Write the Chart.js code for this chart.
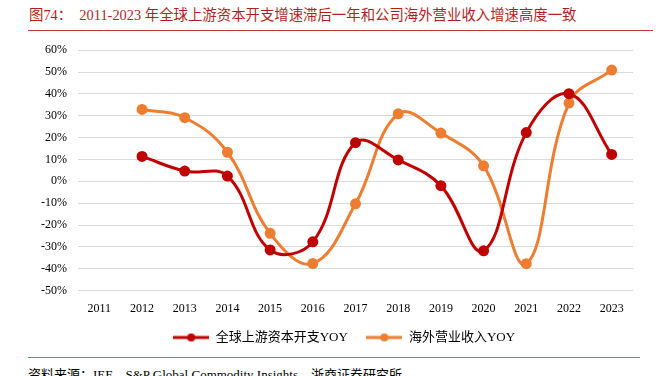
<!DOCTYPE html>
<html>
<head>
<meta charset="utf-8">
<script src="https://cdn.jsdelivr.net/npm/chart.js@4"></script>
<style>
  body { margin: 0; background: #fff; width: 666px; height: 376px; overflow: hidden; position: relative; font-family: "Liberation Serif", "Noto Sans CJK SC", serif; }
  #title { position: absolute; left: 29px; top: 3px; font-size: 14.4px; color: #b01f24; white-space: nowrap; }
  #topline { position: absolute; left: 28px; top: 30px; width: 625px; height: 0; border-top: 1.5px solid #c9363a; }
  #bottomline { position: absolute; left: 28px; top: 357px; width: 612px; height: 0; border-top: 1.5px solid #e06060; }
  #source { position: absolute; left: 28px; top: 364px; font-size: 13px; color: #000; white-space: nowrap; }
  #wrap { position: absolute; left: 0; top: 32px; }
</style>
</head>
<body>
<div id="title">图74：&nbsp; 2011-2023 年全球上游资本开支增速滞后一年和公司海外营业收入增速高度一致</div>
<div id="topline"></div>
<div id="wrap"><canvas id="chart" width="666" height="322"></canvas></div>
<div id="bottomline"></div>
<div id="source">资料来源：IEF、S&amp;P Global Commodity Insights，浙商证券研究所</div>
<script>
const years = ['2011', '2012', '2013', '2014', '2015', '2016', '2017', '2018', '2019', '2020', '2021', '2022', '2023'];
const capexYoy = [null, 11.4, 4.7, 2.4, -31.4, -27.7, 17.7, 9.8, -2.0, -31.8, 22.3, 40.1, 12.3];
const overseasRevenueYoy = [null, 32.9, 29.1, 13.3, -23.8, -37.6, -10.3, 30.9, 22.1, 7.1, -37.7, 35.8, 50.9];
const seriesNames = ['全球上游资本开支YOY', '海外营业收入YOY'];

const RED = '#c00000';
const ORANGE = '#ed7d31';

function legendIcon(color) {
  const c = document.createElement('canvas');
  c.width = 36;
  c.height = 10;
  const g = c.getContext('2d');
  g.strokeStyle = color;
  g.lineWidth = 3;
  g.beginPath();
  g.moveTo(0, 5);
  g.lineTo(36, 5);
  g.stroke();
  g.fillStyle = color;
  g.beginPath();
  g.arc(18, 5, 4, 0, Math.PI * 2);
  g.fill();
  return c;
}
const icons = [legendIcon(RED), legendIcon(ORANGE)];

const ctx = document.getElementById('chart').getContext('2d');
new Chart(ctx, {
  type: 'line',
  data: {
    labels: years,
    datasets: [
      {
        label: seriesNames[0],
        data: capexYoy,
        borderColor: RED,
        backgroundColor: RED,
        borderWidth: 3,
        pointRadius: 4,
        pointHoverRadius: 4,
        tension: 0.4
      },
      {
        label: seriesNames[1],
        data: overseasRevenueYoy,
        borderColor: ORANGE,
        backgroundColor: ORANGE,
        borderWidth: 3,
        pointRadius: 4,
        pointHoverRadius: 4,
        tension: 0.4
      }
    ]
  },
  options: {
    responsive: false,
    animation: false,
    layout: { padding: { left: 0, right: 33, top: 6, bottom: 0 } },
    plugins: {
      tooltip: { enabled: false },
      legend: {
        position: 'bottom',
        fullSize: false,
        labels: {
          usePointStyle: true,
          pointStyleWidth: 36,
          boxHeight: 10,
          padding: 12,
          color: '#000',
          font: { family: '"Liberation Serif", "Noto Sans CJK SC", serif', size: 13 },
          generateLabels(chart) {
            const items = Chart.defaults.plugins.legend.labels.generateLabels(chart);
            items.forEach((it, i) => { it.pointStyle = icons[i]; });
            // spacing tweaks so the legend sits where the original has it
            items[0].text = items[0].text + '  ';
            items[1].text = items[1].text + '       ';
            return items;
          }
        }
      }
    },
    scales: {
      x: {
        offset: true,
        grid: { display: false },
        border: { display: false },
        ticks: { color: '#000', font: { family: '"Liberation Serif", serif', size: 12 }, maxRotation: 0, autoSkip: false }
      },
      y: {
        min: -50,
        max: 60,
        afterFit(scale) { scale.width = 78; },
        grid: { color: '#d9d9d9', drawTicks: false },
        border: { display: false },
        ticks: {
          stepSize: 10,
          padding: 11,
          color: '#000',
          font: { family: '"Liberation Serif", serif', size: 12 },
          callback: v => v + '%'
        }
      }
    }
  }
});
</script>
</body>
</html>
